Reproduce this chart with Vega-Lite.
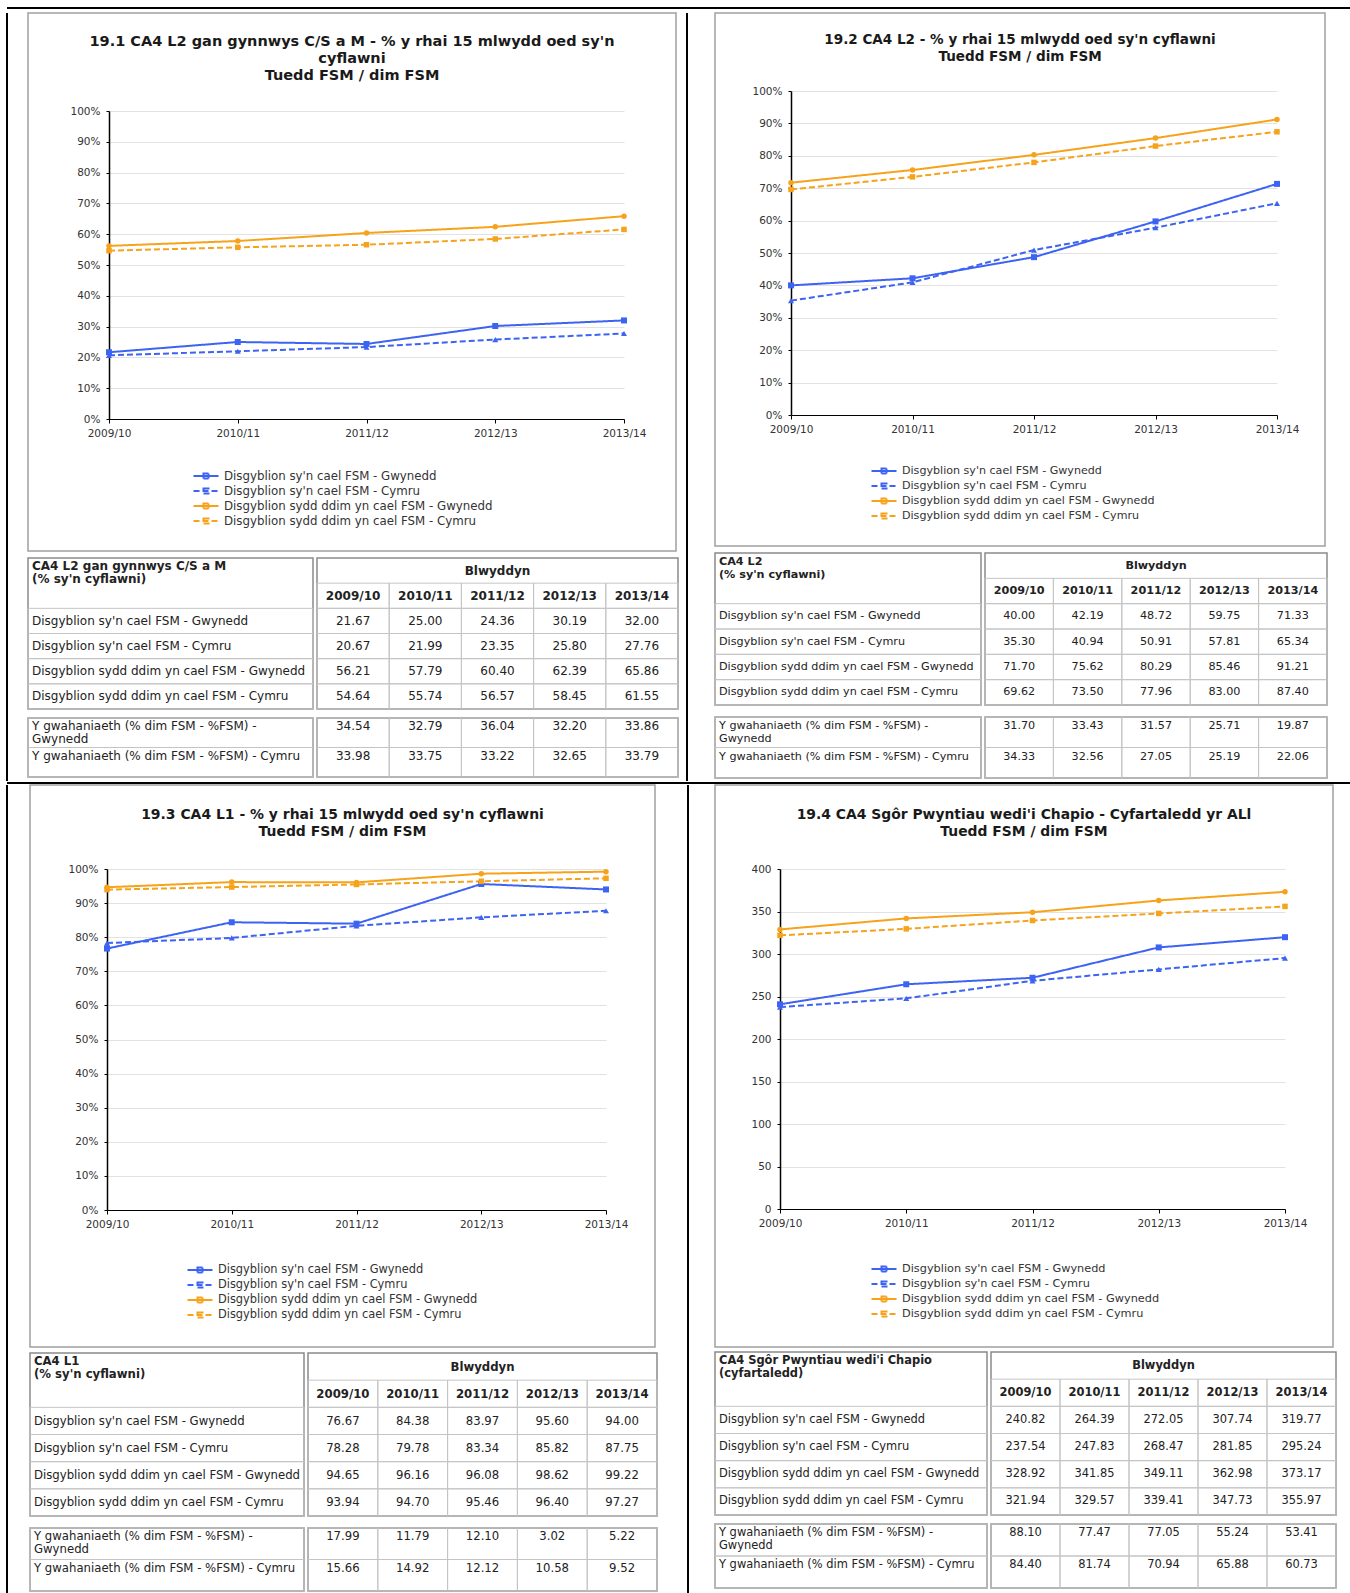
{
  "$schema": "https://vega.github.io/schema/vega-lite/v6.json",
  "padding": {"left": 6, "top": 7, "right": 0, "bottom": 0},
  "background": "white",
  "datasets": {
    "vals": [
      {"q": "19.1", "i": 1, "s": "Disgyblion sy'n cael FSM - Gwynedd", "2009/10": 21.67, "2010/11": 25.00, "2011/12": 24.36, "2012/13": 30.19, "2013/14": 32.00},
      {"q": "19.1", "i": 2, "s": "Disgyblion sy'n cael FSM - Cymru", "2009/10": 20.67, "2010/11": 21.99, "2011/12": 23.35, "2012/13": 25.80, "2013/14": 27.76},
      {"q": "19.1", "i": 3, "s": "Disgyblion sydd ddim yn cael FSM - Gwynedd", "2009/10": 56.21, "2010/11": 57.79, "2011/12": 60.40, "2012/13": 62.39, "2013/14": 65.86},
      {"q": "19.1", "i": 4, "s": "Disgyblion sydd ddim yn cael FSM - Cymru", "2009/10": 54.64, "2010/11": 55.74, "2011/12": 56.57, "2012/13": 58.45, "2013/14": 61.55},
      {"q": "19.1", "i": 5, "s": "Y gwahaniaeth (% dim FSM - %FSM) -\nGwynedd", "2009/10": 34.54, "2010/11": 32.79, "2011/12": 36.04, "2012/13": 32.20, "2013/14": 33.86},
      {"q": "19.1", "i": 6, "s": "Y gwahaniaeth (% dim FSM - %FSM) - Cymru", "2009/10": 33.98, "2010/11": 33.75, "2011/12": 33.22, "2012/13": 32.65, "2013/14": 33.79},
      {"q": "19.2", "i": 1, "s": "Disgyblion sy'n cael FSM - Gwynedd", "2009/10": 40.00, "2010/11": 42.19, "2011/12": 48.72, "2012/13": 59.75, "2013/14": 71.33},
      {"q": "19.2", "i": 2, "s": "Disgyblion sy'n cael FSM - Cymru", "2009/10": 35.30, "2010/11": 40.94, "2011/12": 50.91, "2012/13": 57.81, "2013/14": 65.34},
      {"q": "19.2", "i": 3, "s": "Disgyblion sydd ddim yn cael FSM - Gwynedd", "2009/10": 71.70, "2010/11": 75.62, "2011/12": 80.29, "2012/13": 85.46, "2013/14": 91.21},
      {"q": "19.2", "i": 4, "s": "Disgyblion sydd ddim yn cael FSM - Cymru", "2009/10": 69.62, "2010/11": 73.50, "2011/12": 77.96, "2012/13": 83.00, "2013/14": 87.40},
      {"q": "19.2", "i": 5, "s": "Y gwahaniaeth (% dim FSM - %FSM) -\nGwynedd", "2009/10": 31.70, "2010/11": 33.43, "2011/12": 31.57, "2012/13": 25.71, "2013/14": 19.87},
      {"q": "19.2", "i": 6, "s": "Y gwahaniaeth (% dim FSM - %FSM) - Cymru", "2009/10": 34.33, "2010/11": 32.56, "2011/12": 27.05, "2012/13": 25.19, "2013/14": 22.06},
      {"q": "19.3", "i": 1, "s": "Disgyblion sy'n cael FSM - Gwynedd", "2009/10": 76.67, "2010/11": 84.38, "2011/12": 83.97, "2012/13": 95.60, "2013/14": 94.00},
      {"q": "19.3", "i": 2, "s": "Disgyblion sy'n cael FSM - Cymru", "2009/10": 78.28, "2010/11": 79.78, "2011/12": 83.34, "2012/13": 85.82, "2013/14": 87.75},
      {"q": "19.3", "i": 3, "s": "Disgyblion sydd ddim yn cael FSM - Gwynedd", "2009/10": 94.65, "2010/11": 96.16, "2011/12": 96.08, "2012/13": 98.62, "2013/14": 99.22},
      {"q": "19.3", "i": 4, "s": "Disgyblion sydd ddim yn cael FSM - Cymru", "2009/10": 93.94, "2010/11": 94.70, "2011/12": 95.46, "2012/13": 96.40, "2013/14": 97.27},
      {"q": "19.3", "i": 5, "s": "Y gwahaniaeth (% dim FSM - %FSM) -\nGwynedd", "2009/10": 17.99, "2010/11": 11.79, "2011/12": 12.10, "2012/13": 3.02, "2013/14": 5.22},
      {"q": "19.3", "i": 6, "s": "Y gwahaniaeth (% dim FSM - %FSM) - Cymru", "2009/10": 15.66, "2010/11": 14.92, "2011/12": 12.12, "2012/13": 10.58, "2013/14": 9.52},
      {"q": "19.4", "i": 1, "s": "Disgyblion sy'n cael FSM - Gwynedd", "2009/10": 240.82, "2010/11": 264.39, "2011/12": 272.05, "2012/13": 307.74, "2013/14": 319.77},
      {"q": "19.4", "i": 2, "s": "Disgyblion sy'n cael FSM - Cymru", "2009/10": 237.54, "2010/11": 247.83, "2011/12": 268.47, "2012/13": 281.85, "2013/14": 295.24},
      {"q": "19.4", "i": 3, "s": "Disgyblion sydd ddim yn cael FSM - Gwynedd", "2009/10": 328.92, "2010/11": 341.85, "2011/12": 349.11, "2012/13": 362.98, "2013/14": 373.17},
      {"q": "19.4", "i": 4, "s": "Disgyblion sydd ddim yn cael FSM - Cymru", "2009/10": 321.94, "2010/11": 329.57, "2011/12": 339.41, "2012/13": 347.73, "2013/14": 355.97},
      {"q": "19.4", "i": 5, "s": "Y gwahaniaeth (% dim FSM - %FSM) -\nGwynedd", "2009/10": 88.10, "2010/11": 77.47, "2011/12": 77.05, "2012/13": 55.24, "2013/14": 53.41},
      {"q": "19.4", "i": 6, "s": "Y gwahaniaeth (% dim FSM - %FSM) - Cymru", "2009/10": 84.40, "2010/11": 81.74, "2011/12": 70.94, "2012/13": 65.88, "2013/14": 60.73}
    ]
  },
  "spacing": 0,
  "resolve": {"scale": {"color": "independent", "strokeDash": "independent"}},
  "vconcat": [
    {
      "spacing": 3,
      "resolve": {"scale": {"color": "independent", "strokeDash": "independent"}},
      "vconcat": [
        {"width": 1343, "height": 1, "data": {"values": [{}]}, "mark": {"type": "rule", "color": "#000", "strokeWidth": 2}, "encoding": {"y": {"datum": 0, "type": "quantitative", "scale": {"domain": [0, 1]}, "axis": null}}},
        {
          "spacing": 6,
          "resolve": {"scale": {"color": "independent", "strokeDash": "independent"}},
          "hconcat": [
            {
              "spacing": 18,
              "hconcat": [
                {"width": 1, "height": 768, "data": {"values": [{}]}, "mark": {"type": "rule", "color": "#000", "strokeWidth": 2}, "encoding": {"x": {"datum": 0, "type": "quantitative", "scale": {"domain": [0, 1]}, "axis": null}}},
                {
                  "spacing": 5,
                  "vconcat": [
                    {
                      "width": 648, "height": 538,
                      "view": {"stroke": "#a0a0a0", "strokeWidth": 1.5},
                      "title": {"text": ["19.1  CA4 L2 gan gynnwys C/S a M - % y rhai 15 mlwydd oed sy'n", "cyflawni", "Tuedd FSM / dim FSM"], "offset": -70, "fontSize": 14.5},
                      "data": {"name": "vals"},
                      "transform": [{"filter": "datum.q == '19.1' && datum.i <= 4"}, {"fold": ["2009/10", "2010/11", "2011/12", "2012/13", "2013/14"], "as": ["yr", "v"]}],
                      "encoding": {
                        "x": {"field": "yr", "type": "ordinal", "scale": {"type": "point", "domain": ["2009/10", "2010/11", "2011/12", "2012/13", "2013/14"], "range": [81, 596], "padding": 0}, "axis": {"offset": -132, "title": null}},
                        "y": {"field": "v", "type": "quantitative", "scale": {"domain": [0, 100], "range": [406, 98]}, "axis": {"offset": -81, "title": null, "values": [0, 10, 20, 30, 40, 50, 60, 70, 80, 90, 100], "labelExpr": "datum.value + '%'"}}
                      },
                      "layer": [
                        {"mark": {"type": "line", "strokeWidth": 2}, "encoding": {
                          "color": {"field": "s", "type": "nominal", "scale": {"domain": ["Disgyblion sy'n cael FSM - Gwynedd", "Disgyblion sy'n cael FSM - Cymru", "Disgyblion sydd ddim yn cael FSM - Gwynedd", "Disgyblion sydd ddim yn cael FSM - Cymru"], "range": ["#3d63f2", "#3d63f2", "#f7a21b", "#f7a21b"]}, "legend": {"orient": "none", "legendX": 193, "legendY": 457, "title": null, "labelFontSize": 11.8}},
                          "strokeDash": {"field": "s", "type": "nominal", "scale": {"domain": ["Disgyblion sy'n cael FSM - Gwynedd", "Disgyblion sy'n cael FSM - Cymru", "Disgyblion sydd ddim yn cael FSM - Gwynedd", "Disgyblion sydd ddim yn cael FSM - Cymru"], "range": [[1, 0], [6, 3], [1, 0], [6, 3]]}, "legend": {"orient": "none", "legendX": 193, "legendY": 457, "title": null, "labelFontSize": 11.8}}}},
                        {"transform": [{"filter": "datum.i == 1"}], "mark": {"type": "point", "shape": "square", "filled": true, "color": "#3d63f2", "size": 36, "opacity": 1}},
                        {"transform": [{"filter": "datum.i == 2"}], "mark": {"type": "point", "shape": "triangle-up", "filled": true, "color": "#3d63f2", "size": 36, "opacity": 1}},
                        {"transform": [{"filter": "datum.i == 3"}], "mark": {"type": "point", "shape": "circle", "filled": true, "color": "#f7a21b", "size": 30, "opacity": 1}},
                        {"transform": [{"filter": "datum.i == 4"}], "mark": {"type": "point", "shape": "square", "filled": true, "color": "#f7a21b", "size": 30, "opacity": 1}}
                      ]
                    },
                    {
                      "spacing": 5,
                      "vconcat": [
                        {
                          "spacing": 0,
                          "hconcat": [
                            {
                              "width": 285, "height": 151,
                              "view": {"stroke": "#8a8a8a", "strokeWidth": 1.5},
                              "layer": [
                                {"data": {"name": "vals"}, "transform": [{"filter": "datum.q == '19.1' && datum.i <= 4"}], "mark": {"type": "rect", "filled": false, "stroke": "#c4c4c4"}, "encoding": {"y": {"field": "s", "type": "nominal", "scale": {"domain": ["hdr1", "hdr2", "Disgyblion sy'n cael FSM - Gwynedd", "Disgyblion sy'n cael FSM - Cymru", "Disgyblion sydd ddim yn cael FSM - Gwynedd", "Disgyblion sydd ddim yn cael FSM - Cymru"], "paddingInner": 0, "paddingOuter": 0}, "axis": null}}},
                                {"data": {"name": "vals"}, "transform": [{"filter": "datum.q == '19.1' && datum.i <= 4"}], "mark": {"type": "text", "align": "left", "dx": 4, "fontSize": 12}, "encoding": {"y": {"field": "s", "type": "nominal"}, "x": {"datum": 0, "type": "quantitative", "scale": {"domain": [0, 1]}, "axis": null}, "text": {"field": "s"}}},
                                {"data": {"values": [{"h": "CA4 L2 gan gynnwys C/S a M\n(% sy'n cyflawni)"}]}, "mark": {"type": "text", "align": "left", "baseline": "top", "dx": 4, "dy": 3, "fontWeight": "bold", "fontSize": 12}, "encoding": {"y": {"datum": "hdr1", "type": "nominal", "bandPosition": 0}, "x": {"datum": 0, "type": "quantitative"}, "text": {"field": "h"}}}
                              ]
                            },
                            {
                              "width": 361, "height": 151,
                              "view": {"stroke": "#8a8a8a", "strokeWidth": 1.5},
                              "layer": [
                                {"data": {"name": "vals"}, "transform": [{"filter": "datum.q == '19.1' && datum.i <= 4"}, {"fold": ["2009/10", "2010/11", "2011/12", "2012/13", "2013/14"], "as": ["yr", "v"]}], "mark": {"type": "rect", "filled": false, "stroke": "#c4c4c4"}, "encoding": {"x": {"field": "yr", "type": "ordinal", "scale": {"domain": ["2009/10", "2010/11", "2011/12", "2012/13", "2013/14"], "paddingInner": 0, "paddingOuter": 0}, "axis": null}, "y": {"field": "s", "type": "nominal", "scale": {"domain": ["hdr1", "hdr2", "Disgyblion sy'n cael FSM - Gwynedd", "Disgyblion sy'n cael FSM - Cymru", "Disgyblion sydd ddim yn cael FSM - Gwynedd", "Disgyblion sydd ddim yn cael FSM - Cymru"], "paddingInner": 0, "paddingOuter": 0}, "axis": null}}},
                                {"data": {"name": "vals"}, "transform": [{"filter": "datum.q == '19.1' && datum.i <= 4"}, {"fold": ["2009/10", "2010/11", "2011/12", "2012/13", "2013/14"], "as": ["yr", "v"]}], "mark": {"type": "text", "fontSize": 12}, "encoding": {"x": {"field": "yr", "type": "ordinal"}, "y": {"field": "s", "type": "nominal"}, "text": {"field": "v", "type": "quantitative", "format": ".2f"}}},
                                {"data": {"name": "vals"}, "transform": [{"filter": "datum.q == '19.1' && datum.i == 1"}, {"fold": ["2009/10", "2010/11", "2011/12", "2012/13", "2013/14"], "as": ["yr", "v"]}], "mark": {"type": "rect", "filled": false, "stroke": "#c4c4c4"}, "encoding": {"x": {"field": "yr", "type": "ordinal"}, "y": {"datum": "hdr2", "type": "nominal"}}},
                                {"data": {"name": "vals"}, "transform": [{"filter": "datum.q == '19.1' && datum.i == 1"}, {"fold": ["2009/10", "2010/11", "2011/12", "2012/13", "2013/14"], "as": ["yr", "v"]}], "mark": {"type": "text", "fontWeight": "bold", "fontSize": 12}, "encoding": {"x": {"field": "yr", "type": "ordinal"}, "y": {"datum": "hdr2", "type": "nominal"}, "text": {"field": "yr"}}},
                                {"data": {"values": [{"t": "Blwyddyn"}]}, "mark": {"type": "text", "fontWeight": "bold", "fontSize": 12}, "encoding": {"y": {"datum": "hdr1", "type": "nominal"}, "text": {"field": "t"}}}
                              ]
                            }
                          ]
                        },
                        {
                          "spacing": 0,
                          "hconcat": [
                            {
                              "width": 285, "height": 59,
                              "view": {"stroke": "#8a8a8a", "strokeWidth": 1.5},
                              "layer": [
                                {"data": {"name": "vals"}, "transform": [{"filter": "datum.q == '19.1' && datum.i > 4"}], "mark": {"type": "rect", "filled": false, "stroke": "#c4c4c4"}, "encoding": {"y": {"field": "s", "type": "nominal", "scale": {"domain": ["Y gwahaniaeth (% dim FSM - %FSM) -\nGwynedd", "Y gwahaniaeth (% dim FSM - %FSM) - Cymru"], "paddingInner": 0, "paddingOuter": 0}, "axis": null}}},
                                {"data": {"name": "vals"}, "transform": [{"filter": "datum.q == '19.1' && datum.i > 4"}], "mark": {"type": "text", "align": "left", "baseline": "top", "dx": 4, "dy": 3, "fontSize": 12}, "encoding": {"y": {"field": "s", "type": "nominal", "bandPosition": 0}, "x": {"datum": 0, "type": "quantitative", "scale": {"domain": [0, 1]}, "axis": null}, "text": {"field": "s"}}}
                              ]
                            },
                            {
                              "width": 361, "height": 59,
                              "view": {"stroke": "#8a8a8a", "strokeWidth": 1.5},
                              "layer": [
                                {"data": {"name": "vals"}, "transform": [{"filter": "datum.q == '19.1' && datum.i > 4"}, {"fold": ["2009/10", "2010/11", "2011/12", "2012/13", "2013/14"], "as": ["yr", "v"]}], "mark": {"type": "rect", "filled": false, "stroke": "#c4c4c4"}, "encoding": {"x": {"field": "yr", "type": "ordinal", "scale": {"domain": ["2009/10", "2010/11", "2011/12", "2012/13", "2013/14"], "paddingInner": 0, "paddingOuter": 0}, "axis": null}, "y": {"field": "s", "type": "nominal", "scale": {"domain": ["Y gwahaniaeth (% dim FSM - %FSM) -\nGwynedd", "Y gwahaniaeth (% dim FSM - %FSM) - Cymru"], "paddingInner": 0, "paddingOuter": 0}, "axis": null}}},
                                {"data": {"name": "vals"}, "transform": [{"filter": "datum.q == '19.1' && datum.i > 4"}, {"fold": ["2009/10", "2010/11", "2011/12", "2012/13", "2013/14"], "as": ["yr", "v"]}], "mark": {"type": "text", "baseline": "top", "dy": 3, "fontSize": 12}, "encoding": {"x": {"field": "yr", "type": "ordinal"}, "y": {"field": "s", "type": "nominal", "bandPosition": 0}, "text": {"field": "v", "type": "quantitative", "format": ".2f"}}}
                              ]
                            }
                          ]
                        }
                      ]
                    }
                  ]
                }
              ]
            },
            {
              "spacing": 25,
              "hconcat": [
                {"width": 1, "height": 768, "data": {"values": [{}]}, "mark": {"type": "rule", "color": "#000", "strokeWidth": 2}, "encoding": {"x": {"datum": 0, "type": "quantitative", "scale": {"domain": [0, 1]}, "axis": null}}},
                {
                  "spacing": 5,
                  "vconcat": [
                    {
                      "width": 610, "height": 533,
                      "view": {"stroke": "#a0a0a0", "strokeWidth": 1.5},
                      "title": {"text": ["19.2  CA4 L2 - % y rhai 15 mlwydd oed sy'n cyflawni", "Tuedd FSM / dim FSM"], "offset": -51, "fontSize": 13.55},
                      "data": {"name": "vals"},
                      "transform": [{"filter": "datum.q == '19.2' && datum.i <= 4"}, {"fold": ["2009/10", "2010/11", "2011/12", "2012/13", "2013/14"], "as": ["yr", "v"]}],
                      "encoding": {
                        "x": {"field": "yr", "type": "ordinal", "scale": {"type": "point", "domain": ["2009/10", "2010/11", "2011/12", "2012/13", "2013/14"], "range": [76, 562], "padding": 0}, "axis": {"offset": -131, "title": null}},
                        "y": {"field": "v", "type": "quantitative", "scale": {"domain": [0, 100], "range": [402, 78]}, "axis": {"offset": -76, "title": null, "values": [0, 10, 20, 30, 40, 50, 60, 70, 80, 90, 100], "labelExpr": "datum.value + '%'"}}
                      },
                      "layer": [
                        {"mark": {"type": "line", "strokeWidth": 2}, "encoding": {
                          "color": {"field": "s", "type": "nominal", "scale": {"domain": ["Disgyblion sy'n cael FSM - Gwynedd", "Disgyblion sy'n cael FSM - Cymru", "Disgyblion sydd ddim yn cael FSM - Gwynedd", "Disgyblion sydd ddim yn cael FSM - Cymru"], "range": ["#3d63f2", "#3d63f2", "#f7a21b", "#f7a21b"]}, "legend": {"orient": "none", "legendX": 191, "legendY": 452, "title": null, "labelFontSize": 11.1}},
                          "strokeDash": {"field": "s", "type": "nominal", "scale": {"domain": ["Disgyblion sy'n cael FSM - Gwynedd", "Disgyblion sy'n cael FSM - Cymru", "Disgyblion sydd ddim yn cael FSM - Gwynedd", "Disgyblion sydd ddim yn cael FSM - Cymru"], "range": [[1, 0], [6, 3], [1, 0], [6, 3]]}, "legend": {"orient": "none", "legendX": 191, "legendY": 452, "title": null, "labelFontSize": 11.1}}}},
                        {"transform": [{"filter": "datum.i == 1"}], "mark": {"type": "point", "shape": "square", "filled": true, "color": "#3d63f2", "size": 36, "opacity": 1}},
                        {"transform": [{"filter": "datum.i == 2"}], "mark": {"type": "point", "shape": "triangle-up", "filled": true, "color": "#3d63f2", "size": 36, "opacity": 1}},
                        {"transform": [{"filter": "datum.i == 3"}], "mark": {"type": "point", "shape": "circle", "filled": true, "color": "#f7a21b", "size": 30, "opacity": 1}},
                        {"transform": [{"filter": "datum.i == 4"}], "mark": {"type": "point", "shape": "square", "filled": true, "color": "#f7a21b", "size": 30, "opacity": 1}}
                      ]
                    },
                    {
                      "spacing": 8,
                      "vconcat": [
                        {
                          "spacing": 0,
                          "hconcat": [
                            {
                              "width": 266, "height": 152,
                              "view": {"stroke": "#8a8a8a", "strokeWidth": 1.5},
                              "layer": [
                                {"data": {"name": "vals"}, "transform": [{"filter": "datum.q == '19.2' && datum.i <= 4"}], "mark": {"type": "rect", "filled": false, "stroke": "#c4c4c4"}, "encoding": {"y": {"field": "s", "type": "nominal", "scale": {"domain": ["hdr1", "hdr2", "Disgyblion sy'n cael FSM - Gwynedd", "Disgyblion sy'n cael FSM - Cymru", "Disgyblion sydd ddim yn cael FSM - Gwynedd", "Disgyblion sydd ddim yn cael FSM - Cymru"], "paddingInner": 0, "paddingOuter": 0}, "axis": null}}},
                                {"data": {"name": "vals"}, "transform": [{"filter": "datum.q == '19.2' && datum.i <= 4"}], "mark": {"type": "text", "align": "left", "dx": 4, "fontSize": 11.2}, "encoding": {"y": {"field": "s", "type": "nominal"}, "x": {"datum": 0, "type": "quantitative", "scale": {"domain": [0, 1]}, "axis": null}, "text": {"field": "s"}}},
                                {"data": {"values": [{"h": "CA4 L2\n(% sy'n cyflawni)"}]}, "mark": {"type": "text", "align": "left", "baseline": "top", "dx": 4, "dy": 3, "fontWeight": "bold", "fontSize": 11.2}, "encoding": {"y": {"datum": "hdr1", "type": "nominal", "bandPosition": 0}, "x": {"datum": 0, "type": "quantitative"}, "text": {"field": "h"}}}
                              ]
                            },
                            {
                              "width": 342, "height": 152,
                              "view": {"stroke": "#8a8a8a", "strokeWidth": 1.5},
                              "layer": [
                                {"data": {"name": "vals"}, "transform": [{"filter": "datum.q == '19.2' && datum.i <= 4"}, {"fold": ["2009/10", "2010/11", "2011/12", "2012/13", "2013/14"], "as": ["yr", "v"]}], "mark": {"type": "rect", "filled": false, "stroke": "#c4c4c4"}, "encoding": {"x": {"field": "yr", "type": "ordinal", "scale": {"domain": ["2009/10", "2010/11", "2011/12", "2012/13", "2013/14"], "paddingInner": 0, "paddingOuter": 0}, "axis": null}, "y": {"field": "s", "type": "nominal", "scale": {"domain": ["hdr1", "hdr2", "Disgyblion sy'n cael FSM - Gwynedd", "Disgyblion sy'n cael FSM - Cymru", "Disgyblion sydd ddim yn cael FSM - Gwynedd", "Disgyblion sydd ddim yn cael FSM - Cymru"], "paddingInner": 0, "paddingOuter": 0}, "axis": null}}},
                                {"data": {"name": "vals"}, "transform": [{"filter": "datum.q == '19.2' && datum.i <= 4"}, {"fold": ["2009/10", "2010/11", "2011/12", "2012/13", "2013/14"], "as": ["yr", "v"]}], "mark": {"type": "text", "fontSize": 11.2}, "encoding": {"x": {"field": "yr", "type": "ordinal"}, "y": {"field": "s", "type": "nominal"}, "text": {"field": "v", "type": "quantitative", "format": ".2f"}}},
                                {"data": {"name": "vals"}, "transform": [{"filter": "datum.q == '19.2' && datum.i == 1"}, {"fold": ["2009/10", "2010/11", "2011/12", "2012/13", "2013/14"], "as": ["yr", "v"]}], "mark": {"type": "rect", "filled": false, "stroke": "#c4c4c4"}, "encoding": {"x": {"field": "yr", "type": "ordinal"}, "y": {"datum": "hdr2", "type": "nominal"}}},
                                {"data": {"name": "vals"}, "transform": [{"filter": "datum.q == '19.2' && datum.i == 1"}, {"fold": ["2009/10", "2010/11", "2011/12", "2012/13", "2013/14"], "as": ["yr", "v"]}], "mark": {"type": "text", "fontWeight": "bold", "fontSize": 11.2}, "encoding": {"x": {"field": "yr", "type": "ordinal"}, "y": {"datum": "hdr2", "type": "nominal"}, "text": {"field": "yr"}}},
                                {"data": {"values": [{"t": "Blwyddyn"}]}, "mark": {"type": "text", "fontWeight": "bold", "fontSize": 11.2}, "encoding": {"y": {"datum": "hdr1", "type": "nominal"}, "text": {"field": "t"}}}
                              ]
                            }
                          ]
                        },
                        {
                          "spacing": 0,
                          "hconcat": [
                            {
                              "width": 266, "height": 61,
                              "view": {"stroke": "#8a8a8a", "strokeWidth": 1.5},
                              "layer": [
                                {"data": {"name": "vals"}, "transform": [{"filter": "datum.q == '19.2' && datum.i > 4"}], "mark": {"type": "rect", "filled": false, "stroke": "#c4c4c4"}, "encoding": {"y": {"field": "s", "type": "nominal", "scale": {"domain": ["Y gwahaniaeth (% dim FSM - %FSM) -\nGwynedd", "Y gwahaniaeth (% dim FSM - %FSM) - Cymru"], "paddingInner": 0, "paddingOuter": 0}, "axis": null}}},
                                {"data": {"name": "vals"}, "transform": [{"filter": "datum.q == '19.2' && datum.i > 4"}], "mark": {"type": "text", "align": "left", "baseline": "top", "dx": 4, "dy": 3, "fontSize": 11.2}, "encoding": {"y": {"field": "s", "type": "nominal", "bandPosition": 0}, "x": {"datum": 0, "type": "quantitative", "scale": {"domain": [0, 1]}, "axis": null}, "text": {"field": "s"}}}
                              ]
                            },
                            {
                              "width": 342, "height": 61,
                              "view": {"stroke": "#8a8a8a", "strokeWidth": 1.5},
                              "layer": [
                                {"data": {"name": "vals"}, "transform": [{"filter": "datum.q == '19.2' && datum.i > 4"}, {"fold": ["2009/10", "2010/11", "2011/12", "2012/13", "2013/14"], "as": ["yr", "v"]}], "mark": {"type": "rect", "filled": false, "stroke": "#c4c4c4"}, "encoding": {"x": {"field": "yr", "type": "ordinal", "scale": {"domain": ["2009/10", "2010/11", "2011/12", "2012/13", "2013/14"], "paddingInner": 0, "paddingOuter": 0}, "axis": null}, "y": {"field": "s", "type": "nominal", "scale": {"domain": ["Y gwahaniaeth (% dim FSM - %FSM) -\nGwynedd", "Y gwahaniaeth (% dim FSM - %FSM) - Cymru"], "paddingInner": 0, "paddingOuter": 0}, "axis": null}}},
                                {"data": {"name": "vals"}, "transform": [{"filter": "datum.q == '19.2' && datum.i > 4"}, {"fold": ["2009/10", "2010/11", "2011/12", "2012/13", "2013/14"], "as": ["yr", "v"]}], "mark": {"type": "text", "baseline": "top", "dy": 3, "fontSize": 11.2}, "encoding": {"x": {"field": "yr", "type": "ordinal"}, "y": {"field": "s", "type": "nominal", "bandPosition": 0}, "text": {"field": "v", "type": "quantitative", "format": ".2f"}}}
                              ]
                            }
                          ]
                        }
                      ]
                    }
                  ]
                }
              ]
            }
          ]
        }
      ]
    },
    {
      "spacing": 0,
      "resolve": {"scale": {"color": "independent", "strokeDash": "independent"}},
      "vconcat": [
        {"width": 1343, "height": 1, "data": {"values": [{}]}, "mark": {"type": "rule", "color": "#000", "strokeWidth": 2}, "encoding": {"y": {"datum": 0, "type": "quantitative", "scale": {"domain": [0, 1]}, "axis": null}}},
        {
          "spacing": 28,
          "resolve": {"scale": {"color": "independent", "strokeDash": "independent"}},
          "hconcat": [
            {
              "spacing": 20,
              "hconcat": [
                {"width": 1, "height": 808, "data": {"values": [{}]}, "mark": {"type": "rule", "color": "#000", "strokeWidth": 2}, "encoding": {"x": {"datum": 0, "type": "quantitative", "scale": {"domain": [0, 1]}, "axis": null}}},
                {
                  "spacing": 4,
                  "vconcat": [
                    {
                      "width": 625, "height": 562,
                      "view": {"stroke": "#a0a0a0", "strokeWidth": 1.5},
                      "title": {"text": ["19.3  CA4 L1 - % y rhai 15 mlwydd oed sy'n cyflawni", "Tuedd FSM / dim FSM"], "offset": -54, "fontSize": 13.95},
                      "data": {"name": "vals"},
                      "transform": [{"filter": "datum.q == '19.3' && datum.i <= 4"}, {"fold": ["2009/10", "2010/11", "2011/12", "2012/13", "2013/14"], "as": ["yr", "v"]}],
                      "encoding": {
                        "x": {"field": "yr", "type": "ordinal", "scale": {"type": "point", "domain": ["2009/10", "2010/11", "2011/12", "2012/13", "2013/14"], "range": [77, 576], "padding": 0}, "axis": {"offset": -137, "title": null}},
                        "y": {"field": "v", "type": "quantitative", "scale": {"domain": [0, 100], "range": [425, 84]}, "axis": {"offset": -77, "title": null, "values": [0, 10, 20, 30, 40, 50, 60, 70, 80, 90, 100], "labelExpr": "datum.value + '%'"}}
                      },
                      "layer": [
                        {"mark": {"type": "line", "strokeWidth": 2}, "encoding": {
                          "color": {"field": "s", "type": "nominal", "scale": {"domain": ["Disgyblion sy'n cael FSM - Gwynedd", "Disgyblion sy'n cael FSM - Cymru", "Disgyblion sydd ddim yn cael FSM - Gwynedd", "Disgyblion sydd ddim yn cael FSM - Cymru"], "range": ["#3d63f2", "#3d63f2", "#f7a21b", "#f7a21b"]}, "legend": {"orient": "none", "legendX": 187, "legendY": 479, "title": null, "labelFontSize": 11.4}},
                          "strokeDash": {"field": "s", "type": "nominal", "scale": {"domain": ["Disgyblion sy'n cael FSM - Gwynedd", "Disgyblion sy'n cael FSM - Cymru", "Disgyblion sydd ddim yn cael FSM - Gwynedd", "Disgyblion sydd ddim yn cael FSM - Cymru"], "range": [[1, 0], [6, 3], [1, 0], [6, 3]]}, "legend": {"orient": "none", "legendX": 187, "legendY": 479, "title": null, "labelFontSize": 11.4}}}},
                        {"transform": [{"filter": "datum.i == 1"}], "mark": {"type": "point", "shape": "square", "filled": true, "color": "#3d63f2", "size": 36, "opacity": 1}},
                        {"transform": [{"filter": "datum.i == 2"}], "mark": {"type": "point", "shape": "triangle-up", "filled": true, "color": "#3d63f2", "size": 36, "opacity": 1}},
                        {"transform": [{"filter": "datum.i == 3"}], "mark": {"type": "point", "shape": "circle", "filled": true, "color": "#f7a21b", "size": 30, "opacity": 1}},
                        {"transform": [{"filter": "datum.i == 4"}], "mark": {"type": "point", "shape": "square", "filled": true, "color": "#f7a21b", "size": 30, "opacity": 1}}
                      ]
                    },
                    {
                      "spacing": 8,
                      "vconcat": [
                        {
                          "spacing": 0,
                          "hconcat": [
                            {
                              "width": 274, "height": 163,
                              "view": {"stroke": "#8a8a8a", "strokeWidth": 1.5},
                              "layer": [
                                {"data": {"name": "vals"}, "transform": [{"filter": "datum.q == '19.3' && datum.i <= 4"}], "mark": {"type": "rect", "filled": false, "stroke": "#c4c4c4"}, "encoding": {"y": {"field": "s", "type": "nominal", "scale": {"domain": ["hdr1", "hdr2", "Disgyblion sy'n cael FSM - Gwynedd", "Disgyblion sy'n cael FSM - Cymru", "Disgyblion sydd ddim yn cael FSM - Gwynedd", "Disgyblion sydd ddim yn cael FSM - Cymru"], "paddingInner": 0, "paddingOuter": 0}, "axis": null}}},
                                {"data": {"name": "vals"}, "transform": [{"filter": "datum.q == '19.3' && datum.i <= 4"}], "mark": {"type": "text", "align": "left", "dx": 4, "fontSize": 11.7}, "encoding": {"y": {"field": "s", "type": "nominal"}, "x": {"datum": 0, "type": "quantitative", "scale": {"domain": [0, 1]}, "axis": null}, "text": {"field": "s"}}},
                                {"data": {"values": [{"h": "CA4 L1\n(% sy'n cyflawni)"}]}, "mark": {"type": "text", "align": "left", "baseline": "top", "dx": 4, "dy": 3, "fontWeight": "bold", "fontSize": 11.7}, "encoding": {"y": {"datum": "hdr1", "type": "nominal", "bandPosition": 0}, "x": {"datum": 0, "type": "quantitative"}, "text": {"field": "h"}}}
                              ]
                            },
                            {
                              "width": 349, "height": 163,
                              "view": {"stroke": "#8a8a8a", "strokeWidth": 1.5},
                              "layer": [
                                {"data": {"name": "vals"}, "transform": [{"filter": "datum.q == '19.3' && datum.i <= 4"}, {"fold": ["2009/10", "2010/11", "2011/12", "2012/13", "2013/14"], "as": ["yr", "v"]}], "mark": {"type": "rect", "filled": false, "stroke": "#c4c4c4"}, "encoding": {"x": {"field": "yr", "type": "ordinal", "scale": {"domain": ["2009/10", "2010/11", "2011/12", "2012/13", "2013/14"], "paddingInner": 0, "paddingOuter": 0}, "axis": null}, "y": {"field": "s", "type": "nominal", "scale": {"domain": ["hdr1", "hdr2", "Disgyblion sy'n cael FSM - Gwynedd", "Disgyblion sy'n cael FSM - Cymru", "Disgyblion sydd ddim yn cael FSM - Gwynedd", "Disgyblion sydd ddim yn cael FSM - Cymru"], "paddingInner": 0, "paddingOuter": 0}, "axis": null}}},
                                {"data": {"name": "vals"}, "transform": [{"filter": "datum.q == '19.3' && datum.i <= 4"}, {"fold": ["2009/10", "2010/11", "2011/12", "2012/13", "2013/14"], "as": ["yr", "v"]}], "mark": {"type": "text", "fontSize": 11.7}, "encoding": {"x": {"field": "yr", "type": "ordinal"}, "y": {"field": "s", "type": "nominal"}, "text": {"field": "v", "type": "quantitative", "format": ".2f"}}},
                                {"data": {"name": "vals"}, "transform": [{"filter": "datum.q == '19.3' && datum.i == 1"}, {"fold": ["2009/10", "2010/11", "2011/12", "2012/13", "2013/14"], "as": ["yr", "v"]}], "mark": {"type": "rect", "filled": false, "stroke": "#c4c4c4"}, "encoding": {"x": {"field": "yr", "type": "ordinal"}, "y": {"datum": "hdr2", "type": "nominal"}}},
                                {"data": {"name": "vals"}, "transform": [{"filter": "datum.q == '19.3' && datum.i == 1"}, {"fold": ["2009/10", "2010/11", "2011/12", "2012/13", "2013/14"], "as": ["yr", "v"]}], "mark": {"type": "text", "fontWeight": "bold", "fontSize": 11.7}, "encoding": {"x": {"field": "yr", "type": "ordinal"}, "y": {"datum": "hdr2", "type": "nominal"}, "text": {"field": "yr"}}},
                                {"data": {"values": [{"t": "Blwyddyn"}]}, "mark": {"type": "text", "fontWeight": "bold", "fontSize": 11.7}, "encoding": {"y": {"datum": "hdr1", "type": "nominal"}, "text": {"field": "t"}}}
                              ]
                            }
                          ]
                        },
                        {
                          "spacing": 0,
                          "hconcat": [
                            {
                              "width": 274, "height": 63,
                              "view": {"stroke": "#8a8a8a", "strokeWidth": 1.5},
                              "layer": [
                                {"data": {"name": "vals"}, "transform": [{"filter": "datum.q == '19.3' && datum.i > 4"}], "mark": {"type": "rect", "filled": false, "stroke": "#c4c4c4"}, "encoding": {"y": {"field": "s", "type": "nominal", "scale": {"domain": ["Y gwahaniaeth (% dim FSM - %FSM) -\nGwynedd", "Y gwahaniaeth (% dim FSM - %FSM) - Cymru"], "paddingInner": 0, "paddingOuter": 0}, "axis": null}}},
                                {"data": {"name": "vals"}, "transform": [{"filter": "datum.q == '19.3' && datum.i > 4"}], "mark": {"type": "text", "align": "left", "baseline": "top", "dx": 4, "dy": 3, "fontSize": 11.7}, "encoding": {"y": {"field": "s", "type": "nominal", "bandPosition": 0}, "x": {"datum": 0, "type": "quantitative", "scale": {"domain": [0, 1]}, "axis": null}, "text": {"field": "s"}}}
                              ]
                            },
                            {
                              "width": 349, "height": 63,
                              "view": {"stroke": "#8a8a8a", "strokeWidth": 1.5},
                              "layer": [
                                {"data": {"name": "vals"}, "transform": [{"filter": "datum.q == '19.3' && datum.i > 4"}, {"fold": ["2009/10", "2010/11", "2011/12", "2012/13", "2013/14"], "as": ["yr", "v"]}], "mark": {"type": "rect", "filled": false, "stroke": "#c4c4c4"}, "encoding": {"x": {"field": "yr", "type": "ordinal", "scale": {"domain": ["2009/10", "2010/11", "2011/12", "2012/13", "2013/14"], "paddingInner": 0, "paddingOuter": 0}, "axis": null}, "y": {"field": "s", "type": "nominal", "scale": {"domain": ["Y gwahaniaeth (% dim FSM - %FSM) -\nGwynedd", "Y gwahaniaeth (% dim FSM - %FSM) - Cymru"], "paddingInner": 0, "paddingOuter": 0}, "axis": null}}},
                                {"data": {"name": "vals"}, "transform": [{"filter": "datum.q == '19.3' && datum.i > 4"}, {"fold": ["2009/10", "2010/11", "2011/12", "2012/13", "2013/14"], "as": ["yr", "v"]}], "mark": {"type": "text", "baseline": "top", "dy": 3, "fontSize": 11.7}, "encoding": {"x": {"field": "yr", "type": "ordinal"}, "y": {"field": "s", "type": "nominal", "bandPosition": 0}, "text": {"field": "v", "type": "quantitative", "format": ".2f"}}}
                              ]
                            }
                          ]
                        }
                      ]
                    }
                  ]
                }
              ]
            },
            {
              "spacing": 24,
              "hconcat": [
                {"width": 1, "height": 808, "data": {"values": [{}]}, "mark": {"type": "rule", "color": "#000", "strokeWidth": 2}, "encoding": {"x": {"datum": 0, "type": "quantitative", "scale": {"domain": [0, 1]}, "axis": null}}},
                {
                  "spacing": 3,
                  "vconcat": [
                    {
                      "width": 618, "height": 562,
                      "view": {"stroke": "#a0a0a0", "strokeWidth": 1.5},
                      "title": {"text": ["19.4  CA4 Sgôr Pwyntiau wedi'i Chapio - Cyfartaledd yr ALl", "Tuedd FSM / dim FSM"], "offset": -54, "fontSize": 13.9},
                      "data": {"name": "vals"},
                      "transform": [{"filter": "datum.q == '19.4' && datum.i <= 4"}, {"fold": ["2009/10", "2010/11", "2011/12", "2012/13", "2013/14"], "as": ["yr", "v"]}],
                      "encoding": {
                        "x": {"field": "yr", "type": "ordinal", "scale": {"type": "point", "domain": ["2009/10", "2010/11", "2011/12", "2012/13", "2013/14"], "range": [65, 570], "padding": 0}, "axis": {"offset": -138, "title": null}},
                        "y": {"field": "v", "type": "quantitative", "scale": {"domain": [0, 400], "range": [424, 84]}, "axis": {"offset": -65, "title": null, "values": [0, 50, 100, 150, 200, 250, 300, 350, 400]}}
                      },
                      "layer": [
                        {"mark": {"type": "line", "strokeWidth": 2}, "encoding": {
                          "color": {"field": "s", "type": "nominal", "scale": {"domain": ["Disgyblion sy'n cael FSM - Gwynedd", "Disgyblion sy'n cael FSM - Cymru", "Disgyblion sydd ddim yn cael FSM - Gwynedd", "Disgyblion sydd ddim yn cael FSM - Cymru"], "range": ["#3d63f2", "#3d63f2", "#f7a21b", "#f7a21b"]}, "legend": {"orient": "none", "legendX": 190, "legendY": 478, "title": null, "labelFontSize": 11.3}},
                          "strokeDash": {"field": "s", "type": "nominal", "scale": {"domain": ["Disgyblion sy'n cael FSM - Gwynedd", "Disgyblion sy'n cael FSM - Cymru", "Disgyblion sydd ddim yn cael FSM - Gwynedd", "Disgyblion sydd ddim yn cael FSM - Cymru"], "range": [[1, 0], [6, 3], [1, 0], [6, 3]]}, "legend": {"orient": "none", "legendX": 190, "legendY": 478, "title": null, "labelFontSize": 11.3}}}},
                        {"transform": [{"filter": "datum.i == 1"}], "mark": {"type": "point", "shape": "square", "filled": true, "color": "#3d63f2", "size": 36, "opacity": 1}},
                        {"transform": [{"filter": "datum.i == 2"}], "mark": {"type": "point", "shape": "triangle-up", "filled": true, "color": "#3d63f2", "size": 36, "opacity": 1}},
                        {"transform": [{"filter": "datum.i == 3"}], "mark": {"type": "point", "shape": "circle", "filled": true, "color": "#f7a21b", "size": 30, "opacity": 1}},
                        {"transform": [{"filter": "datum.i == 4"}], "mark": {"type": "point", "shape": "square", "filled": true, "color": "#f7a21b", "size": 30, "opacity": 1}}
                      ]
                    },
                    {
                      "spacing": 5,
                      "vconcat": [
                        {
                          "spacing": 0,
                          "hconcat": [
                            {
                              "width": 272, "height": 163,
                              "view": {"stroke": "#8a8a8a", "strokeWidth": 1.5},
                              "layer": [
                                {"data": {"name": "vals"}, "transform": [{"filter": "datum.q == '19.4' && datum.i <= 4"}], "mark": {"type": "rect", "filled": false, "stroke": "#c4c4c4"}, "encoding": {"y": {"field": "s", "type": "nominal", "scale": {"domain": ["hdr1", "hdr2", "Disgyblion sy'n cael FSM - Gwynedd", "Disgyblion sy'n cael FSM - Cymru", "Disgyblion sydd ddim yn cael FSM - Gwynedd", "Disgyblion sydd ddim yn cael FSM - Cymru"], "paddingInner": 0, "paddingOuter": 0}, "axis": null}}},
                                {"data": {"name": "vals"}, "transform": [{"filter": "datum.q == '19.4' && datum.i <= 4"}], "mark": {"type": "text", "align": "left", "dx": 4, "fontSize": 11.45}, "encoding": {"y": {"field": "s", "type": "nominal"}, "x": {"datum": 0, "type": "quantitative", "scale": {"domain": [0, 1]}, "axis": null}, "text": {"field": "s"}}},
                                {"data": {"values": [{"h": "CA4 Sgôr Pwyntiau wedi'i Chapio\n(cyfartaledd)"}]}, "mark": {"type": "text", "align": "left", "baseline": "top", "dx": 4, "dy": 3, "fontWeight": "bold", "fontSize": 11.45}, "encoding": {"y": {"datum": "hdr1", "type": "nominal", "bandPosition": 0}, "x": {"datum": 0, "type": "quantitative"}, "text": {"field": "h"}}}
                              ]
                            },
                            {
                              "width": 345, "height": 163,
                              "view": {"stroke": "#8a8a8a", "strokeWidth": 1.5},
                              "layer": [
                                {"data": {"name": "vals"}, "transform": [{"filter": "datum.q == '19.4' && datum.i <= 4"}, {"fold": ["2009/10", "2010/11", "2011/12", "2012/13", "2013/14"], "as": ["yr", "v"]}], "mark": {"type": "rect", "filled": false, "stroke": "#c4c4c4"}, "encoding": {"x": {"field": "yr", "type": "ordinal", "scale": {"domain": ["2009/10", "2010/11", "2011/12", "2012/13", "2013/14"], "paddingInner": 0, "paddingOuter": 0}, "axis": null}, "y": {"field": "s", "type": "nominal", "scale": {"domain": ["hdr1", "hdr2", "Disgyblion sy'n cael FSM - Gwynedd", "Disgyblion sy'n cael FSM - Cymru", "Disgyblion sydd ddim yn cael FSM - Gwynedd", "Disgyblion sydd ddim yn cael FSM - Cymru"], "paddingInner": 0, "paddingOuter": 0}, "axis": null}}},
                                {"data": {"name": "vals"}, "transform": [{"filter": "datum.q == '19.4' && datum.i <= 4"}, {"fold": ["2009/10", "2010/11", "2011/12", "2012/13", "2013/14"], "as": ["yr", "v"]}], "mark": {"type": "text", "fontSize": 11.45}, "encoding": {"x": {"field": "yr", "type": "ordinal"}, "y": {"field": "s", "type": "nominal"}, "text": {"field": "v", "type": "quantitative", "format": ".2f"}}},
                                {"data": {"name": "vals"}, "transform": [{"filter": "datum.q == '19.4' && datum.i == 1"}, {"fold": ["2009/10", "2010/11", "2011/12", "2012/13", "2013/14"], "as": ["yr", "v"]}], "mark": {"type": "rect", "filled": false, "stroke": "#c4c4c4"}, "encoding": {"x": {"field": "yr", "type": "ordinal"}, "y": {"datum": "hdr2", "type": "nominal"}}},
                                {"data": {"name": "vals"}, "transform": [{"filter": "datum.q == '19.4' && datum.i == 1"}, {"fold": ["2009/10", "2010/11", "2011/12", "2012/13", "2013/14"], "as": ["yr", "v"]}], "mark": {"type": "text", "fontWeight": "bold", "fontSize": 11.45}, "encoding": {"x": {"field": "yr", "type": "ordinal"}, "y": {"datum": "hdr2", "type": "nominal"}, "text": {"field": "yr"}}},
                                {"data": {"values": [{"t": "Blwyddyn"}]}, "mark": {"type": "text", "fontWeight": "bold", "fontSize": 11.45}, "encoding": {"y": {"datum": "hdr1", "type": "nominal"}, "text": {"field": "t"}}}
                              ]
                            }
                          ]
                        },
                        {
                          "spacing": 0,
                          "hconcat": [
                            {
                              "width": 272, "height": 64,
                              "view": {"stroke": "#8a8a8a", "strokeWidth": 1.5},
                              "layer": [
                                {"data": {"name": "vals"}, "transform": [{"filter": "datum.q == '19.4' && datum.i > 4"}], "mark": {"type": "rect", "filled": false, "stroke": "#c4c4c4"}, "encoding": {"y": {"field": "s", "type": "nominal", "scale": {"domain": ["Y gwahaniaeth (% dim FSM - %FSM) -\nGwynedd", "Y gwahaniaeth (% dim FSM - %FSM) - Cymru"], "paddingInner": 0, "paddingOuter": 0}, "axis": null}}},
                                {"data": {"name": "vals"}, "transform": [{"filter": "datum.q == '19.4' && datum.i > 4"}], "mark": {"type": "text", "align": "left", "baseline": "top", "dx": 4, "dy": 3, "fontSize": 11.45}, "encoding": {"y": {"field": "s", "type": "nominal", "bandPosition": 0}, "x": {"datum": 0, "type": "quantitative", "scale": {"domain": [0, 1]}, "axis": null}, "text": {"field": "s"}}}
                              ]
                            },
                            {
                              "width": 345, "height": 64,
                              "view": {"stroke": "#8a8a8a", "strokeWidth": 1.5},
                              "layer": [
                                {"data": {"name": "vals"}, "transform": [{"filter": "datum.q == '19.4' && datum.i > 4"}, {"fold": ["2009/10", "2010/11", "2011/12", "2012/13", "2013/14"], "as": ["yr", "v"]}], "mark": {"type": "rect", "filled": false, "stroke": "#c4c4c4"}, "encoding": {"x": {"field": "yr", "type": "ordinal", "scale": {"domain": ["2009/10", "2010/11", "2011/12", "2012/13", "2013/14"], "paddingInner": 0, "paddingOuter": 0}, "axis": null}, "y": {"field": "s", "type": "nominal", "scale": {"domain": ["Y gwahaniaeth (% dim FSM - %FSM) -\nGwynedd", "Y gwahaniaeth (% dim FSM - %FSM) - Cymru"], "paddingInner": 0, "paddingOuter": 0}, "axis": null}}},
                                {"data": {"name": "vals"}, "transform": [{"filter": "datum.q == '19.4' && datum.i > 4"}, {"fold": ["2009/10", "2010/11", "2011/12", "2012/13", "2013/14"], "as": ["yr", "v"]}], "mark": {"type": "text", "baseline": "top", "dy": 3, "fontSize": 11.45}, "encoding": {"x": {"field": "yr", "type": "ordinal"}, "y": {"field": "s", "type": "nominal", "bandPosition": 0}, "text": {"field": "v", "type": "quantitative", "format": ".2f"}}}
                              ]
                            }
                          ]
                        }
                      ]
                    }
                  ]
                }
              ]
            }
          ]
        }
      ]
    }
  ],
  "config": {
    "font": "DejaVu Sans",
    "view": {"stroke": null},
    "title": {"font": "DejaVu Sans", "fontSize": 14, "fontWeight": "bold", "color": "#1a1a1a", "anchor": "middle", "frame": "group", "lineHeight": 17},
    "axis": {"labelFont": "DejaVu Sans", "labelFontSize": 10.5, "labelColor": "#333333", "domainColor": "#000000", "tickColor": "#000000", "gridColor": "#e2e2e2"},
    "axisX": {"grid": false, "labelAngle": 0, "tickSize": 4, "labelPadding": 5},
    "axisY": {"grid": true, "tickSize": 3, "labelPadding": 6, "domainWidth": 1.5},
    "legend": {"labelFont": "DejaVu Sans", "labelFontSize": 11.5, "labelColor": "#333333", "symbolType": "M-2.5,0H2.5M-0.5,-0.5H0.5V0.5H-0.5Z", "symbolSize": 100, "symbolStrokeWidth": 2, "rowPadding": 1, "padding": 0, "labelOffset": 12, "labelLimit": 400},
    "text": {"font": "DejaVu Sans", "fontSize": 12, "color": "#222222", "lineBreak": "\n", "lineHeight": 13}
  }
}
